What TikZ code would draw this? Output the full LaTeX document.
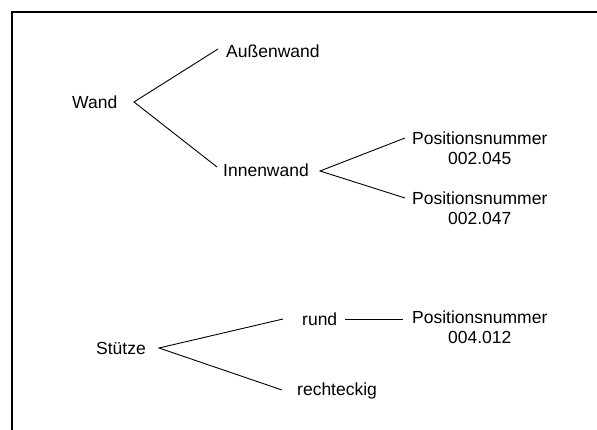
\documentclass[tikz,border=0pt]{standalone}
\usepackage{fontspec}
\setmainfont{Liberation Sans}
\begin{document}
\begin{tikzpicture}[x=1pt,y=-1pt,
  lbl/.style={inner sep=0pt,anchor=west,font=\fontsize{17.5}{20}\selectfont},
  lbl2/.style={lbl,align=center},
  branch/.style={line width=0.9pt},
  frameline/.style={line width=1.3pt}]
\useasboundingbox (0,0) rectangle (597,430);
% frame
\draw[frameline] (12,430) -- (12,12) -- (597,12);

% labels
\node[lbl] (wand)  at (72,102) {Wand};
\node[lbl] (aussen) at (226,51) {Außenwand};
\node[lbl] (innen) at (223,170) {Innenwand};
\node[lbl2] (p045) at (412,148) {Positionsnummer\\002.045};
\node[lbl2] (p047) at (412,208) {Positionsnummer\\002.047};
\node[lbl] (stuetze) at (96,348) {Stütze};
\node[lbl] (rund) at (302,319) {rund};
\node[lbl] (recht) at (297,391) {rechteckig};
\node[lbl2] (p012) at (412,327) {Positionsnummer\\004.012};

% branching points
\coordinate (wv) at (134,102);
\coordinate (iv) at (320,171);
\coordinate (sv) at (159,348);

% connectors (yshift is measured upwards on the page)
\draw[branch] ([xshift=-8pt,yshift=2pt]aussen.west) -- (wv) -- ([xshift=-6pt,yshift=3pt]innen.west);
\draw[branch] ([xshift=-7pt,yshift=10pt]p045.west) -- (iv) -- ([xshift=-7pt,yshift=10pt]p047.west);
\draw[branch] ([xshift=-19pt]rund.west) -- (sv) -- ([xshift=-15pt,yshift=1pt]recht.west);
\draw[branch] ([xshift=8pt]rund.east) -- ([xshift=-9pt,yshift=8pt]p012.west);
\end{tikzpicture}
\end{document}
